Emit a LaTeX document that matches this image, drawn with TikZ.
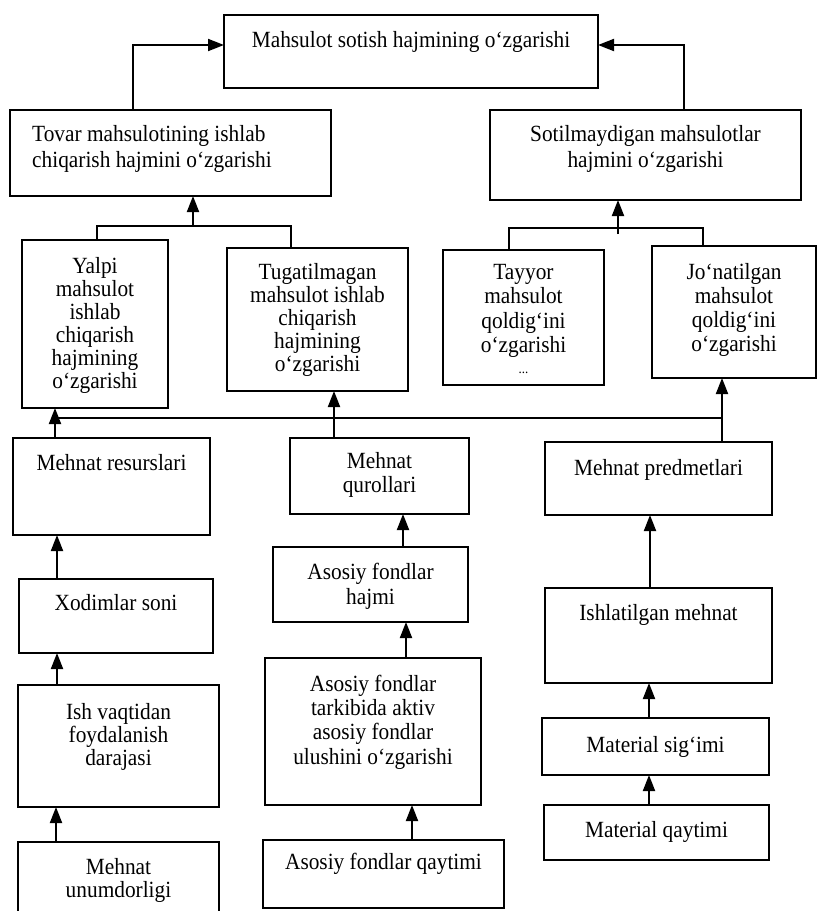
\documentclass[tikz,border=0pt]{standalone}
\usepackage{fontspec}
\setmainfont[FakeStretch=0.92]{Liberation Serif}
\usetikzlibrary{arrows.meta,calc}
\tikzset{
  box/.style={draw, line width=1.9pt, inner sep=0pt, outer sep=0pt},
  txt/.style={inner sep=0pt, align=center},
  arr/.style={line width=1.9pt, -{Triangle[length=16pt,width=12pt]}},
  conn/.style={line width=1.9pt},
}
% name x1 y1 x2 y2 baseline skip text
\newcommand\tbx[8]{%
  \node[box, minimum width={(#4-#2)*1pt}, minimum height={(#5-#3)*1pt}] (#1) at ({(#2+#4)/2},{(#3+#5)/2}) {};
  \node[txt, anchor=north, font=\fontsize{23.2}{#7}\selectfont] (#1t) at ({(#2+#4)/2},{#6-17}) {\rule{0pt}{17pt}#8};
}
\begin{document}
\begin{tikzpicture}[x=1pt,y=-1pt]
\useasboundingbox (0,0) rectangle (818,911);
\clip (0,0) rectangle (818,911);
% level 1
\tbx{top}{224}{15}{598}{88}{47}{23}{Mahsulot sotish hajmining o‘zgarishi}
% level 2
\node[box, minimum width=321pt, minimum height=86pt] (tovar) at (170.5,153) {};
\node[txt, align=left, anchor=north west, font=\fontsize{23.2}{26}\selectfont] (tovart) at (32,124) {\rule{0pt}{17pt}Tovar mahsulotining ishlab\\chiqarish hajmini o‘zgarishi};
\tbx{sotil}{490}{110}{801}{200}{141}{26}{Sotilmaydigan mahsulotlar\\hajmini o‘zgarishi}
% level 3
\tbx{yalpi}{22}{240}{168}{408}{273}{23}{Yalpi\\mahsulot\\ishlab\\chiqarish\\hajmining\\o‘zgarishi}
\tbx{tugat}{227}{248}{408}{391}{279}{23}{Tugatilmagan\\mahsulot ishlab\\chiqarish\\hajmining\\o‘zgarishi}
\tbx{tayyor}{443}{250}{604}{385}{279}{24.5}{Tayyor\\mahsulot\\qoldig‘ini\\o‘zgarishi\\[-4pt]{\fontsize{14}{14}\selectfont ...}}
\tbx{jonat}{652}{246}{816}{378}{279}{24}{Jo‘natilgan\\mahsulot\\qoldig‘ini\\o‘zgarishi}
% level 4
\tbx{mres}{13}{438}{210}{535}{470}{23}{Mehnat resurslari}
\tbx{mqur}{290}{438}{469}{514}{468}{24}{Mehnat\\qurollari}
\tbx{mpred}{545}{442}{772}{515}{475}{23}{Mehnat predmetlari}
% level 5
\tbx{xod}{19}{579}{213}{653}{610}{23}{Xodimlar soni}
\tbx{afh}{273}{547}{468}{622}{579}{25}{Asosiy fondlar\\hajmi}
\tbx{ishl}{545}{588}{772}{683}{620}{23}{Ishlatilgan mehnat}
% level 6
\tbx{ish}{18}{685}{219}{807}{719}{23}{Ish vaqtidan\\foydalanish\\darajasi}
\tbx{aft}{265}{658}{481}{805}{691}{24.3}{Asosiy fondlar\\tarkibida aktiv\\asosiy fondlar\\ulushini o‘zgarishi}
\tbx{msig}{542}{718}{769}{775}{752}{23}{Material sig‘imi}
% level 7
\tbx{mun}{18}{842}{219}{920}{874}{23}{Mehnat\\unumdorligi}
\tbx{afq}{263}{840}{504}{908}{869}{23}{Asosiy fondlar qaytimi}
\tbx{mqay}{544}{805}{769}{860}{837}{23}{Material qaytimi}

% helper columns
\coordinate (cTov) at (133,45);
\coordinate (cSot) at (684,45);
\coordinate (j1) at (193,226);
\coordinate (j2) at (618,228);
\coordinate (j2s) at (618,234);
\coordinate (yL) at (97,0);
\coordinate (tR) at (291,0);
\coordinate (tyL) at (509,0);
\coordinate (joR) at (703,0);
\coordinate (h1) at (55,418);
\coordinate (h2) at (334,418);
\coordinate (h3) at (722,418);
\coordinate (xA) at (57,0);
\coordinate (xA2) at (56,0);
\coordinate (xB1) at (403,0);
\coordinate (xB2) at (406,0);
\coordinate (xB3) at (412,0);
\coordinate (xC) at (650,0);
\coordinate (xC2) at (649,0);

% level 2 -> level 1
\draw[arr] (tovar.north -| cTov) |- (top.west |- cTov);
\draw[arr] (sotil.north -| cSot) |- (top.east |- cSot);
% level 3 -> level 2
\draw[conn] (yalpi.north -| yL) |- (j1) -| (tugat.north -| tR);
\draw[arr] (j1) -- (tovar.south -| j1);
\draw[conn] (tayyor.north -| tyL) |- (j2) -| (jonat.north -| joR);
\draw[arr] (j2s) -- (sotil.south -| j2s);
% level 4 -> level 3
\draw[conn] (h1) -- (h3);
\draw[arr] (mres.north -| h1) -- (yalpi.south -| h1);
\draw[arr] (mqur.north -| h2) -- (tugat.south -| h2);
\draw[arr] (mpred.north -| h3) -- (jonat.south -| h3);
% lower chains
\draw[arr] (xod.north -| xA) -- (mres.south -| xA);
\draw[arr] (ish.north -| xA) -- (xod.south -| xA);
\draw[arr] (mun.north -| xA2) -- (ish.south -| xA2);
\draw[arr] (afh.north -| xB1) -- (mqur.south -| xB1);
\draw[arr] (aft.north -| xB2) -- (afh.south -| xB2);
\draw[arr] (afq.north -| xB3) -- (aft.south -| xB3);
\draw[arr] (ishl.north -| xC) -- (mpred.south -| xC);
\draw[arr] (msig.north -| xC2) -- (ishl.south -| xC2);
\draw[arr] (mqay.north -| xC2) -- (msig.south -| xC2);
\end{tikzpicture}
\end{document}
